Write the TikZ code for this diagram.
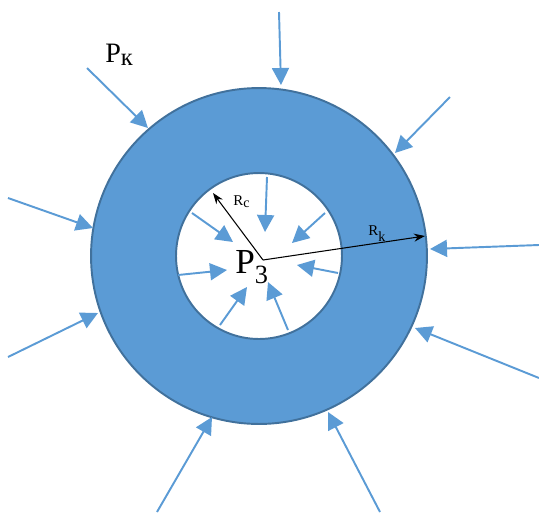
\documentclass[tikz,border=0pt]{standalone}
\usepackage{fontspec}
\setmainfont{Liberation Serif}
\usepackage{tikz}
\usetikzlibrary{arrows.meta}
\definecolor{ringblue}{HTML}{5B9BD5}
\definecolor{ringedge}{HTML}{41719C}
\definecolor{pushblue}{HTML}{5B9BD5}
\newcommand{\lowsub}[3]{\raisebox{-#2}{\fontsize{#1}{#1}\selectfont #3}}
\tikzset{
ring/.style={
fill=ringblue,
draw=ringedge,
line width=1.1pt,
even odd rule
},
pushArrow/.style={
-{Triangle[length=3.4mm,width=3.4mm]},
line width=1.1pt,
draw=pushblue
},
radiusArrow/.style={
-{Stealth[length=2.2mm,width=1.6mm]},
line width=0.6pt,
draw=black
},
pressLabel/.style={
font=\fontsize{16}{17}\selectfont,
inner sep=0pt,
anchor=base west
},
wellLabel/.style={
font=\fontsize{20}{21}\selectfont,
inner sep=0pt,
anchor=base west
},
radLabel/.style={
font=\fontsize{8.5}{9}\selectfont,
inner sep=0pt,
anchor=base west
}
}

\begin{document}
\begin{tikzpicture}[x=0.02cm, y=-0.02cm]
\useasboundingbox (0,0) rectangle (539,512);

% ring
\coordinate (c) at (259,256);
\path[ring] (c) circle[radius=3.36cm] (c) circle[radius=1.66cm];

% outer pressure arrows
\foreach \i/\sx/\sy/\ex/\ey in {1/87/68/148/128, 2/279/12/281/85, 3/450/97/395/153,
  4/8/198/93/228, 5/539/245/430/249, 6/8/357/98/313,
  7/539/378/415/328, 8/157/512/212/417, 9/380/512/328/412}{
  \coordinate (out\i) at (\sx,\sy);
  \coordinate (rim\i) at (\ex,\ey);
  \draw[pushArrow] (out\i) -- (rim\i);
}

% inner pressure arrows
\foreach \i/\sx/\sy/\ex/\ey in {1/267/177/265/232, 2/192/213/233/242, 3/325/213/292/243,
  4/178/275/227/270, 5/338/273/297/265, 6/220/325/247/287, 7/288/330/268/282}{
  \coordinate (hole\i) at (\sx,\sy);
  \coordinate (tip\i) at (\ex,\ey);
  \draw[pushArrow] (hole\i) -- (tip\i);
}

% radii
\coordinate (o) at (263,260);
\coordinate (rc) at (213,193);
\coordinate (rk) at (425,236);
\draw[radiusArrow] (o) -- (rc);
\draw[radiusArrow] (o) -- (rk);

\node[pressLabel] (pk) at (105,62) {P\lowsub{14}{0.06cm}{к}};
\node[wellLabel] (pz) at (235,273) {P\lowsub{15}{0.2cm}{3}};
\node[radLabel] (rclabel) at (233,205) {R\lowsub{8}{0.04cm}{c}};
\node[radLabel] (rklabel) at (368,235) {R\lowsub{8}{0.12cm}{k}};

\end{tikzpicture}
\end{document}
